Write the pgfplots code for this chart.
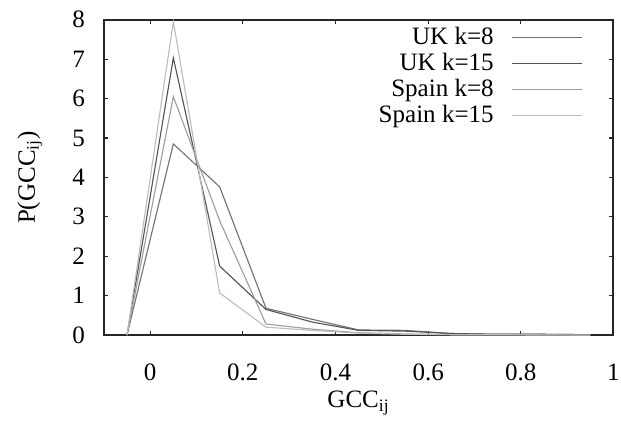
\documentclass[border=0pt]{standalone}
\usepackage{fontspec}
\setmainfont{Liberation Serif}
\usepackage{pgfplots}
\pgfplotsset{compat=1.18}
\definecolor{ukeight}{gray}{0.45}
\definecolor{ukfifteen}{gray}{0.33}
\definecolor{speight}{gray}{0.62}
\definecolor{spfifteen}{gray}{0.74}
\begin{document}
\fontsize{10}{12}\selectfont
\begin{tikzpicture}
\begin{axis}[
  scale only axis,
  width=203.6pt, height=126pt,
  xmin=-0.1, xmax=1,
  ymin=0, ymax=8,
  xtick={0,0.2,...,1},
  ytick={0,1,...,8},
  /pgf/number format/assume math mode=true,
  tick align=inside,
  major tick length=1.8pt,
  axis line style={color=black!85, line width=0.8pt},
  tick style={color=black!85, line width=0.5pt},
  xticklabel style={yshift=-8pt, inner xsep=0.5pt},
  yticklabel style={xshift=-4pt, inner ysep=4.5pt},
  xlabel={GCC\textsubscript{ij}},
  ylabel={P(GCC\textsubscript{ij})},
  xlabel style={at={(axis description cs:0.5,-0.215)}, anchor=center, inner ysep=3pt},
  ylabel style={at={(axis description cs:-0.145,0.5)}, anchor=center, inner ysep=7pt},
  legend style={draw=none, fill=none, at={(0.94,0.995)}, anchor=north east,
    cells={anchor=east}, row sep=-2pt, inner sep=0pt},
  legend plot pos=right,
  legend image code/.code={\draw[#1] (0pt,0pt) -- (28pt,0pt);},
  /tikz/every odd column/.append style={column sep=5pt},
  every axis plot/.append style={line width=0.45pt},
]
\addplot[color=ukeight] coordinates {
  (-0.05,0) (0.05,4.85) (0.15,3.76) (0.25,0.68) (0.35,0.40) (0.45,0.13)
  (0.55,0.12) (0.65,0.04) (0.75,0.02) (0.85,0.02) (0.95,0.01)
};
\addlegendentry{UK k=8}
\addplot[color=ukfifteen] coordinates {
  (-0.05,0) (0.05,7.03) (0.15,1.75) (0.25,0.65) (0.35,0.33) (0.45,0.12)
  (0.55,0.10) (0.65,0.04) (0.75,0.02) (0.85,0.02) (0.95,0.01)
};
\addlegendentry{UK k=15}
\addplot[color=speight] coordinates {
  (-0.05,0) (0.05,6.05) (0.15,2.90) (0.25,0.28) (0.35,0.15) (0.45,0.06)
  (0.55,0.03) (0.65,0.01) (0.75,0.01) (0.85,0.01) (0.95,0.0)
};
\addlegendentry{Spain k=8}
\addplot[color=spfifteen] coordinates {
  (-0.05,0) (0.05,7.95) (0.15,1.07) (0.25,0.20) (0.35,0.12) (0.45,0.05)
  (0.55,0.02) (0.65,0.01) (0.75,0.01) (0.85,0.0) (0.95,0.0)
};
\addlegendentry{Spain k=15}
\end{axis}
\end{tikzpicture}
\end{document}
